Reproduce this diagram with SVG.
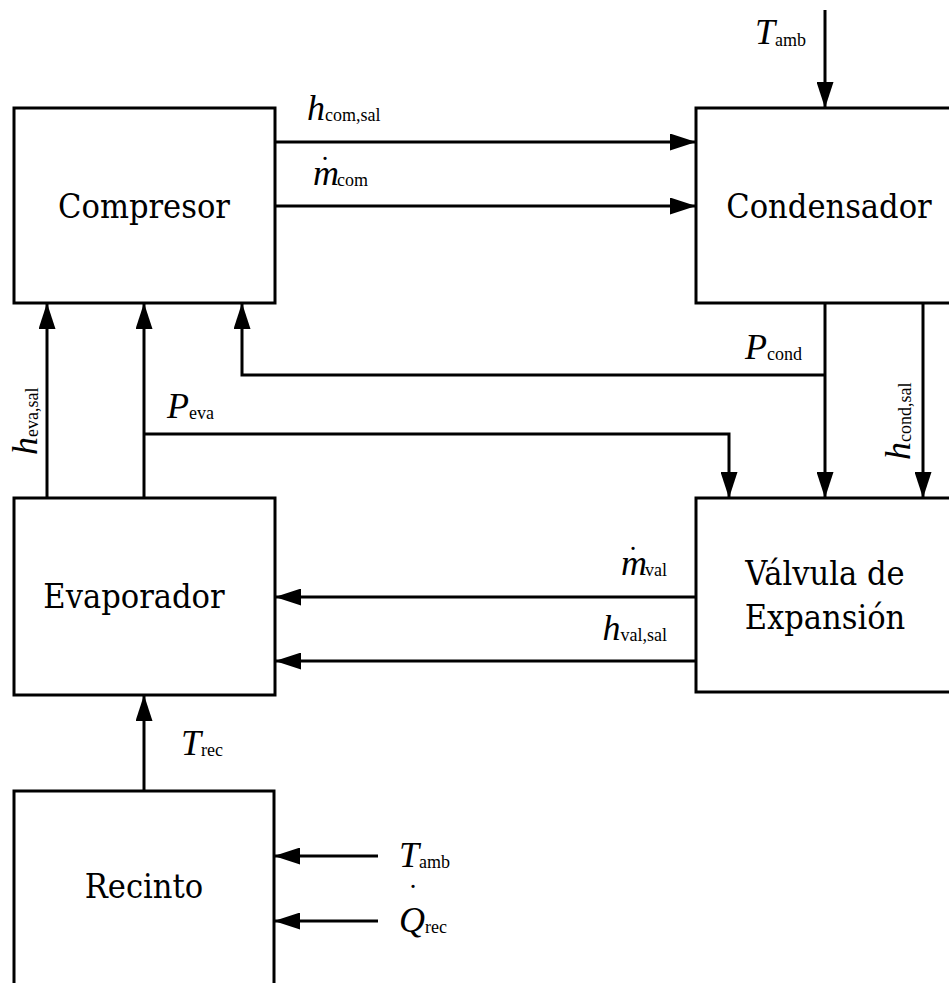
<svg xmlns="http://www.w3.org/2000/svg" width="949" height="983" viewBox="0 0 949 983">
<style>
.box{fill:#fff;stroke:#000;stroke-width:3}
.c{fill:none;stroke:#000;stroke-width:3}
.n{font-family:"DejaVu Serif Condensed","DejaVu Serif",serif;font-stretch:condensed;font-size:34px;fill:#000;text-anchor:middle}
.v{font-family:"Liberation Serif","DejaVu Serif",serif;font-size:36px;font-style:italic;fill:#000}
.s{font-family:"Liberation Serif","DejaVu Serif",serif;font-size:18px;font-style:normal}
.d{font-size:30px;font-style:normal}
</style>
<defs>
<marker id="ah" viewBox="0 0 26 17" refX="26" refY="8.5" markerWidth="26" markerHeight="17" markerUnits="userSpaceOnUse" orient="auto">
<path d="M0,0 L26,8.5 L0,17 Z" fill="#000"/>
</marker>
</defs>
<rect width="949" height="983" fill="#fff"/>
<g id="compresor"><rect class="box" x="14" y="108" width="261" height="195"/><text class="n" x="144" y="218">Compresor</text></g>
<g id="condensador"><rect class="box" x="696" y="108" width="270" height="195"/><text class="n" x="829" y="218">Condensador</text></g>
<g id="evaporador"><rect class="box" x="14" y="498" width="261" height="197"/><text class="n" x="134" y="608">Evaporador</text></g>
<g id="valvula"><rect class="box" x="696" y="498" width="270" height="194"/><text class="n" x="825" y="585">Válvula de</text><text class="n" x="825" y="629">Expansión</text></g>
<g id="recinto"><rect class="box" x="14" y="791" width="260" height="220"/><text class="n" x="144" y="898">Recinto</text></g>
<g id="connectors">
<path class="c" marker-end="url(#ah)" d="M275,142 H696"/>
<path class="c" marker-end="url(#ah)" d="M275,206 H696"/>
<path class="c" marker-end="url(#ah)" d="M825,10 V108"/>
<path class="c" marker-end="url(#ah)" d="M47,498 V303"/>
<path class="c" marker-end="url(#ah)" d="M144,498 V303"/>
<path class="c" marker-end="url(#ah)" d="M825,375 H242 V303"/>
<path class="c" marker-end="url(#ah)" d="M825,303 V498"/>
<path class="c" marker-end="url(#ah)" d="M923,303 V498"/>
<path class="c" marker-end="url(#ah)" d="M144,434 H729 V498"/>
<path class="c" marker-end="url(#ah)" d="M696,597 H275"/>
<path class="c" marker-end="url(#ah)" d="M696,661 H275"/>
<path class="c" marker-end="url(#ah)" d="M144,791 V695"/>
<path class="c" marker-end="url(#ah)" d="M378,856 H274"/>
<path class="c" marker-end="url(#ah)" d="M378,921 H274"/>
</g>
<g id="labels">
<text class="v" x="755" y="44">T<tspan class="s" dy="2">amb</tspan></text>
<text class="v" x="307" y="120">h<tspan class="s" dy="1">com,sal</tspan></text>
<text class="v" x="313" y="185">m<tspan class="d" dx="-19" dy="-8">˙</tspan><tspan class="s" dx="7" dy="9">com</tspan></text>
<text class="v" x="802" y="359" text-anchor="end">P<tspan class="s" dy="1">cond</tspan></text>
<text class="v" transform="translate(910,460) rotate(-90)">h<tspan class="s" dy="1">cond,sal</tspan></text>
<text class="v" transform="translate(37,455) rotate(-90)">h<tspan class="s" dy="1">eva,sal</tspan></text>
<text class="v" x="167" y="418">P<tspan class="s" dy="1">eva</tspan></text>
<text class="v" x="667" y="575" text-anchor="end">m<tspan class="d" dx="-19" dy="-8">˙</tspan><tspan class="s" dx="7" dy="9">val</tspan></text>
<text class="v" x="667" y="640" text-anchor="end">h<tspan class="s" dy="1">val,sal</tspan></text>
<text class="v" x="181" y="755">T<tspan class="s" dy="1">rec</tspan></text>
<text class="v" x="399" y="867">T<tspan class="s" dy="1">amb</tspan></text>
<text class="v" x="399" y="932">Q<tspan class="d" dx="-17" dy="-27">˙</tspan><tspan class="s" dx="7" dy="28">rec</tspan></text>
</g>
</svg>
